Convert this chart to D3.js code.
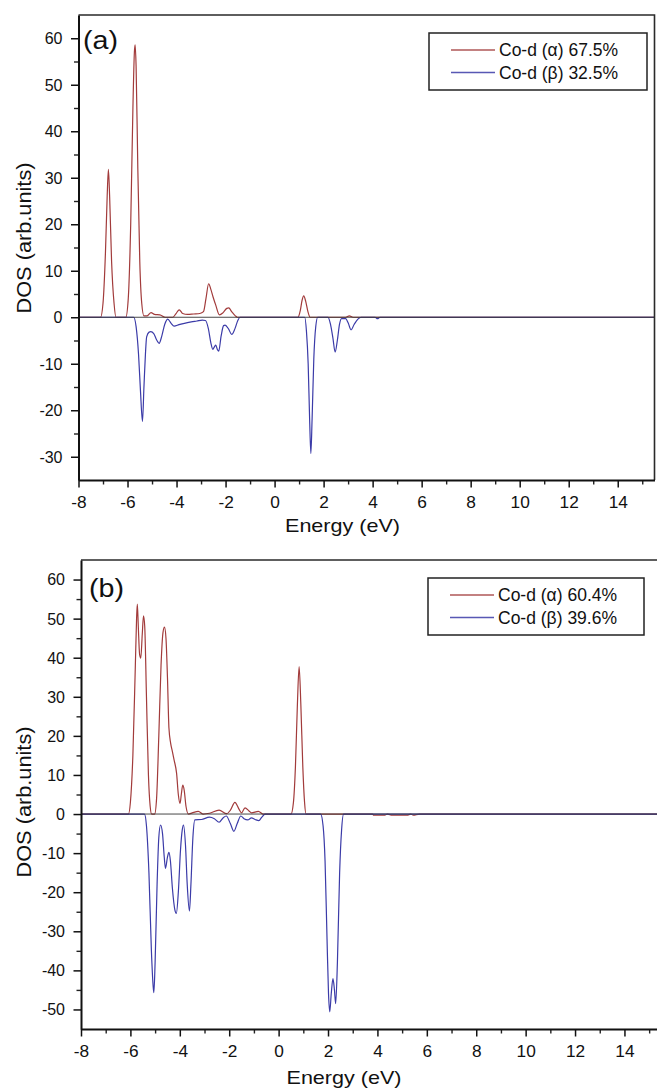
<!DOCTYPE html>
<html>
<head>
<meta charset="utf-8">
<script src="https://cdn.jsdelivr.net/npm/d3@7"></script>
<style>
  body { margin: 0; background: #fff; }
  svg { display: block; font-family: "Liberation Sans", Arial, sans-serif; }
</style>
</head>
<body>
<svg id="chart" width="657" height="1090"></svg>
<script>
// --- data: [energy (eV), DOS] ---
const energyDomain = [-8, 15.5];
const energyTicks = [-8, -6, -4, -2, 0, 2, 4, 6, 8, 10, 12, 14];
const energyMinor = [-7, -5, -3, -1, 1, 3, 5, 7, 9, 11, 13, 15];

const dosTicksA = [-30, -20, -10, 0, 10, 20, 30, 40, 50, 60];
const dosMinorA = [-25, -15, -5, 5, 15, 25, 35, 45, 55];
const dosTicksB = [-50, -40, -30, -20, -10, 0, 10, 20, 30, 40, 50, 60];
const dosMinorB = [-45, -35, -25, -15, -5, 5, 15, 25, 35, 45, 55];

const legendA = ['Co-d (\u03b1) 67.5%', 'Co-d (\u03b2) 32.5%'];
const legendB = ['Co-d (\u03b1) 60.4%', 'Co-d (\u03b2) 39.6%'];

const alphaA = [
  [-8, 0], [-7.1, 0], [-7.0, 3], [-6.9, 14], [-6.83, 26], [-6.78, 31.8], [-6.73, 26], [-6.65, 12], [-6.55, 3], [-6.47, 0],
  [-6.07, 0], [-5.97, 4], [-5.87, 20], [-5.78, 45], [-5.72, 57], [-5.69, 58.6], [-5.65, 54], [-5.58, 32], [-5.5, 12], [-5.42, 3], [-5.33, 0.3],
  [-5.2, 0.3], [-5.04, 1.0], [-4.9, 0.6], [-4.68, 0.5], [-4.47, 0], [-4.15, 0], [-4.02, 0.8], [-3.89, 1.6], [-3.75, 0.8], [-3.55, 0.6],
  [-3.3, 0.7], [-3.05, 0.8], [-2.9, 1.2], [-2.8, 4], [-2.69, 7.2], [-2.6, 6], [-2.5, 4.2], [-2.4, 2.6], [-2.25, 0.5], [-2.1, 1],
  [-1.95, 1.9], [-1.87, 2.0], [-1.75, 1.2], [-1.6, 0.3], [-1.52, 0],
  [0.95, 0], [1.05, 1.5], [1.12, 3.6], [1.19, 4.6], [1.27, 3.4], [1.36, 1.2], [1.45, 0],
  [2.9, 0], [3.05, 0.3], [3.2, 0], [15.5, 0]
];

const betaA = [
  [-8, 0], [-5.75, 0], [-5.65, -2], [-5.55, -8], [-5.47, -16], [-5.39, -22.4], [-5.33, -15], [-5.27, -8], [-5.22, -4.2],
  [-5.12, -3.2], [-5.05, -3.1], [-4.93, -3.5], [-4.82, -4.8], [-4.71, -5.6], [-4.6, -4], [-4.48, -1.5], [-4.36, -0.4],
  [-4.22, -1.3], [-4.1, -1.9], [-3.9, -1.6], [-3.68, -1.3], [-3.4, -1], [-3.17, -0.8], [-2.95, -0.6], [-2.82, -0.7],
  [-2.7, -2.5], [-2.6, -5.5], [-2.52, -6.9], [-2.45, -6.3], [-2.4, -6.0], [-2.33, -7], [-2.28, -7.3], [-2.18, -4],
  [-2.08, -1.8], [-2.02, -1.7], [-1.88, -2.5], [-1.75, -3.7], [-1.62, -2.5], [-1.5, -0.7], [-1.41, 0],
  [1.23, 0], [1.3, -3], [1.37, -10], [1.43, -22], [1.48, -29.3], [1.53, -22], [1.6, -9], [1.68, -2], [1.76, 0],
  [2.18, 0], [2.28, -1.5], [2.38, -4.5], [2.47, -7.5], [2.56, -5], [2.65, -1.5], [2.73, -0.3], [2.9, -0.3],
  [3.0, -1.2], [3.12, -2.7], [3.25, -1.5], [3.4, -0.4], [3.53, 0], [4.1, 0], [4.2, -0.3], [4.3, 0], [15.5, 0]
];

const alphaB = [
  [-8, 0], [-6.08, 0], [-6.0, 3], [-5.9, 15], [-5.8, 38], [-5.75, 50], [-5.72, 53.7], [-5.68, 48], [-5.63, 41], [-5.58, 39.9],
  [-5.52, 46], [-5.47, 50.7], [-5.42, 48], [-5.35, 30], [-5.27, 10], [-5.2, 2], [-5.14, 0], [-5.02, 0], [-4.94, 4],
  [-4.85, 20], [-4.76, 38], [-4.68, 46.5], [-4.62, 47.8], [-4.56, 45], [-4.5, 35], [-4.44, 22], [-4.37, 18.1],
  [-4.3, 16], [-4.23, 13.8], [-4.13, 10.4], [-4.06, 5], [-3.99, 2.7], [-3.94, 5], [-3.88, 7.4], [-3.82, 6], [-3.75, 2],
  [-3.65, 0], [-3.5, 0.3], [-3.25, 0.7], [-3.05, 0], [-2.8, 0.2], [-2.41, 1.0], [-2.1, 0.1], [-1.95, 1.0], [-1.77, 3.0],
  [-1.6, 1.2], [-1.5, 0.3], [-1.36, 1.6], [-1.2, 0.8], [-1.1, 0.3], [-0.82, 0.7], [-0.62, 0],
  [0.5, 0], [0.6, 3], [0.68, 12], [0.76, 28], [0.83, 37.7], [0.9, 28], [0.98, 12], [1.05, 3], [1.11, 0],
  [3.8, 0], [3.85, -0.3], [4.3, -0.3], [4.4, 0], [4.6, -0.3], [5.2, -0.3], [5.35, 0], [5.45, -0.3], [5.7, 0], [15.5, 0]
];

const betaB = [
  [-8, 0], [-5.43, 0], [-5.35, -3], [-5.25, -15], [-5.15, -35], [-5.08, -44], [-5.05, -45.7], [-5.0, -38], [-4.92, -18],
  [-4.85, -6], [-4.78, -2.8], [-4.7, -5], [-4.63, -11], [-4.58, -13.9], [-4.5, -11], [-4.44, -9.8], [-4.38, -12],
  [-4.3, -19], [-4.2, -24.5], [-4.14, -25.4], [-4.06, -20], [-3.97, -9], [-3.9, -4], [-3.85, -2.8], [-3.77, -8],
  [-3.7, -18], [-3.61, -24.8], [-3.55, -18], [-3.47, -6], [-3.39, -1.5], [-3.12, -1.4], [-2.8, -0.8], [-2.6, -1.2],
  [-2.41, -2.1], [-2.25, -1.0], [-2.12, -0.5], [-1.95, -2.5], [-1.81, -4.4], [-1.68, -2.5], [-1.53, -0.5], [-1.4, -1.2],
  [-1.25, -1.5], [-1.1, -1.0], [-0.95, -1.4], [-0.8, -1.7], [-0.68, -0.8], [-0.55, 0],
  [1.7, 0], [1.8, -3], [1.88, -12], [1.96, -32], [2.02, -46], [2.07, -50.6], [2.13, -46], [2.2, -42.1], [2.26, -45],
  [2.31, -48.5], [2.38, -38], [2.47, -15], [2.55, -4], [2.63, 0], [15.5, 0]
];

const alphaColor = '#a23b3b';
const betaColor = '#3b3ba8';

const svg = d3.select('#chart');

// plain hyphen for negatives, like the original figure
const tickText = d => String(d);

function drawPanel(p) {
  const x = d3.scaleLinear().domain(energyDomain).range([p.left, p.right]);
  const y = d3.scaleLinear().domain(p.yDomain).range([p.bottom, p.top]);
  const g = svg.append('g');

  const line = d3.line()
    .x(d => x(d[0]))
    .y(d => y(d[1]))
    .curve(d3.curveMonotoneX);

  g.append('path').datum(p.alpha)
    .attr('d', line)
    .attr('fill', 'none')
    .attr('stroke', alphaColor)
    .attr('stroke-width', 1.2);

  g.append('path').datum(p.beta)
    .attr('d', line)
    .attr('fill', 'none')
    .attr('stroke', betaColor)
    .attr('stroke-width', 1.2);

  // zero line
  g.append('line')
    .attr('x1', p.left).attr('x2', p.right)
    .attr('y1', y(0)).attr('y2', y(0))
    .attr('stroke', '#333')
    .attr('stroke-width', 0.9);

  // frame top / right
  g.append('path')
    .attr('d', `M${p.left},${p.top}H${p.right}V${p.bottom}`)
    .attr('fill', 'none')
    .attr('stroke', '#2a2a2a')
    .attr('stroke-width', 1.6);

  // minor ticks
  g.append('g')
    .attr('transform', `translate(0,${p.bottom})`)
    .call(d3.axisBottom(x).tickValues(energyMinor).tickSize(4.5).tickFormat(''))
    .call(a => a.select('.domain').remove())
    .selectAll('line').attr('stroke', '#222').attr('stroke-width', 1.4);

  g.append('g')
    .attr('transform', `translate(${p.left},0)`)
    .call(d3.axisLeft(y).tickValues(p.yMinor).tickSize(4.5).tickFormat(''))
    .call(a => a.select('.domain').remove())
    .selectAll('line').attr('stroke', '#222').attr('stroke-width', 1.4);

  // major axes
  const xAxis = g.append('g')
    .attr('transform', `translate(0,${p.bottom})`)
    .call(d3.axisBottom(x).tickValues(energyTicks).tickSize(7.5).tickSizeOuter(0).tickFormat(tickText));
  xAxis.select('.domain').attr('stroke', '#111').attr('stroke-width', 2);
  xAxis.selectAll('.tick line').attr('stroke', '#111').attr('stroke-width', 1.5);
  xAxis.selectAll('.tick text')
    .attr('y', 28.5).attr('dy', 0)
    .attr('fill', '#111')
    .style('font-size', '16px')
    .attr('transform', 'scale(1.08,1)');

  const yAxis = g.append('g')
    .attr('transform', `translate(${p.left},0)`)
    .call(d3.axisLeft(y).tickValues(p.yTicks).tickSize(7.5).tickSizeOuter(0).tickFormat(tickText));
  yAxis.select('.domain').attr('stroke', '#111').attr('stroke-width', 2);
  yAxis.selectAll('.tick line').attr('stroke', '#111').attr('stroke-width', 1.5);
  yAxis.selectAll('.tick text')
    .attr('x', -16).attr('dy', '0.34em')
    .attr('fill', '#111')
    .style('font-size', '16px');

  // axis titles
  g.append('text')
    .attr('x', p.xLabelX).attr('y', p.xLabelY)
    .attr('text-anchor', 'middle')
    .attr('textLength', 115).attr('lengthAdjust', 'spacingAndGlyphs')
    .style('font-size', '19px')
    .attr('fill', '#111')
    .text('Energy (eV)');

  g.append('text')
    .attr('transform', `translate(${p.yLabelX},${p.yLabelY}) rotate(-90)`)
    .attr('text-anchor', 'middle')
    .attr('textLength', 151).attr('lengthAdjust', 'spacingAndGlyphs')
    .style('font-size', '21px')
    .attr('fill', '#111')
    .text('DOS (arb.units)');

  // panel letter
  g.append('text')
    .attr('x', p.letterX).attr('y', p.letterY)
    .attr('textLength', 35).attr('lengthAdjust', 'spacingAndGlyphs')
    .style('font-size', '25px')
    .attr('fill', '#111')
    .text(p.letter);

  // legend
  const lg = g.append('g');
  lg.append('rect')
    .attr('x', p.legend.x).attr('y', p.legend.y)
    .attr('width', p.legend.w).attr('height', p.legend.h)
    .attr('fill', '#fff')
    .attr('stroke', '#222')
    .attr('stroke-width', 1.5);
  const colors = [alphaColor, betaColor];
  p.legendLabels.forEach((lab, i) => {
    const ry = p.legend.y + 17 + i * 22.5;
    lg.append('line')
      .attr('x1', p.legend.x + 22).attr('x2', p.legend.x + 66)
      .attr('y1', ry).attr('y2', ry)
      .attr('stroke', colors[i])
      .attr('stroke-width', 1.3)
      .attr('opacity', 0.85);
    lg.append('text')
      .attr('x', p.legend.x + 70).attr('y', ry + 6)
      .style('font-size', '17.5px')
      .attr('fill', '#111')
      .text(lab);
  });
}

drawPanel({
  left: 78.5, right: 654.5, top: 15, bottom: 480,
  yDomain: [-35, 65], yTicks: dosTicksA, yMinor: dosMinorA,
  alpha: alphaA, beta: betaA,
  xLabelX: 342.5, xLabelY: 532,
  yLabelX: 31, yLabelY: 238,
  letter: '(a)', letterX: 83, letterY: 48.5,
  legend: { x: 429, y: 33, w: 218, h: 57 },
  legendLabels: legendA
});

drawPanel({
  left: 81, right: 661.5, top: 560, bottom: 1029,
  yDomain: [-55, 65], yTicks: dosTicksB, yMinor: dosMinorB,
  alpha: alphaB, beta: betaB,
  xLabelX: 344, xLabelY: 1084,
  yLabelX: 31, yLabelY: 802,
  letter: '(b)', letterX: 89, letterY: 597,
  legend: { x: 428, y: 578, w: 216, h: 57 },
  legendLabels: legendB
});
</script>
</body>
</html>
